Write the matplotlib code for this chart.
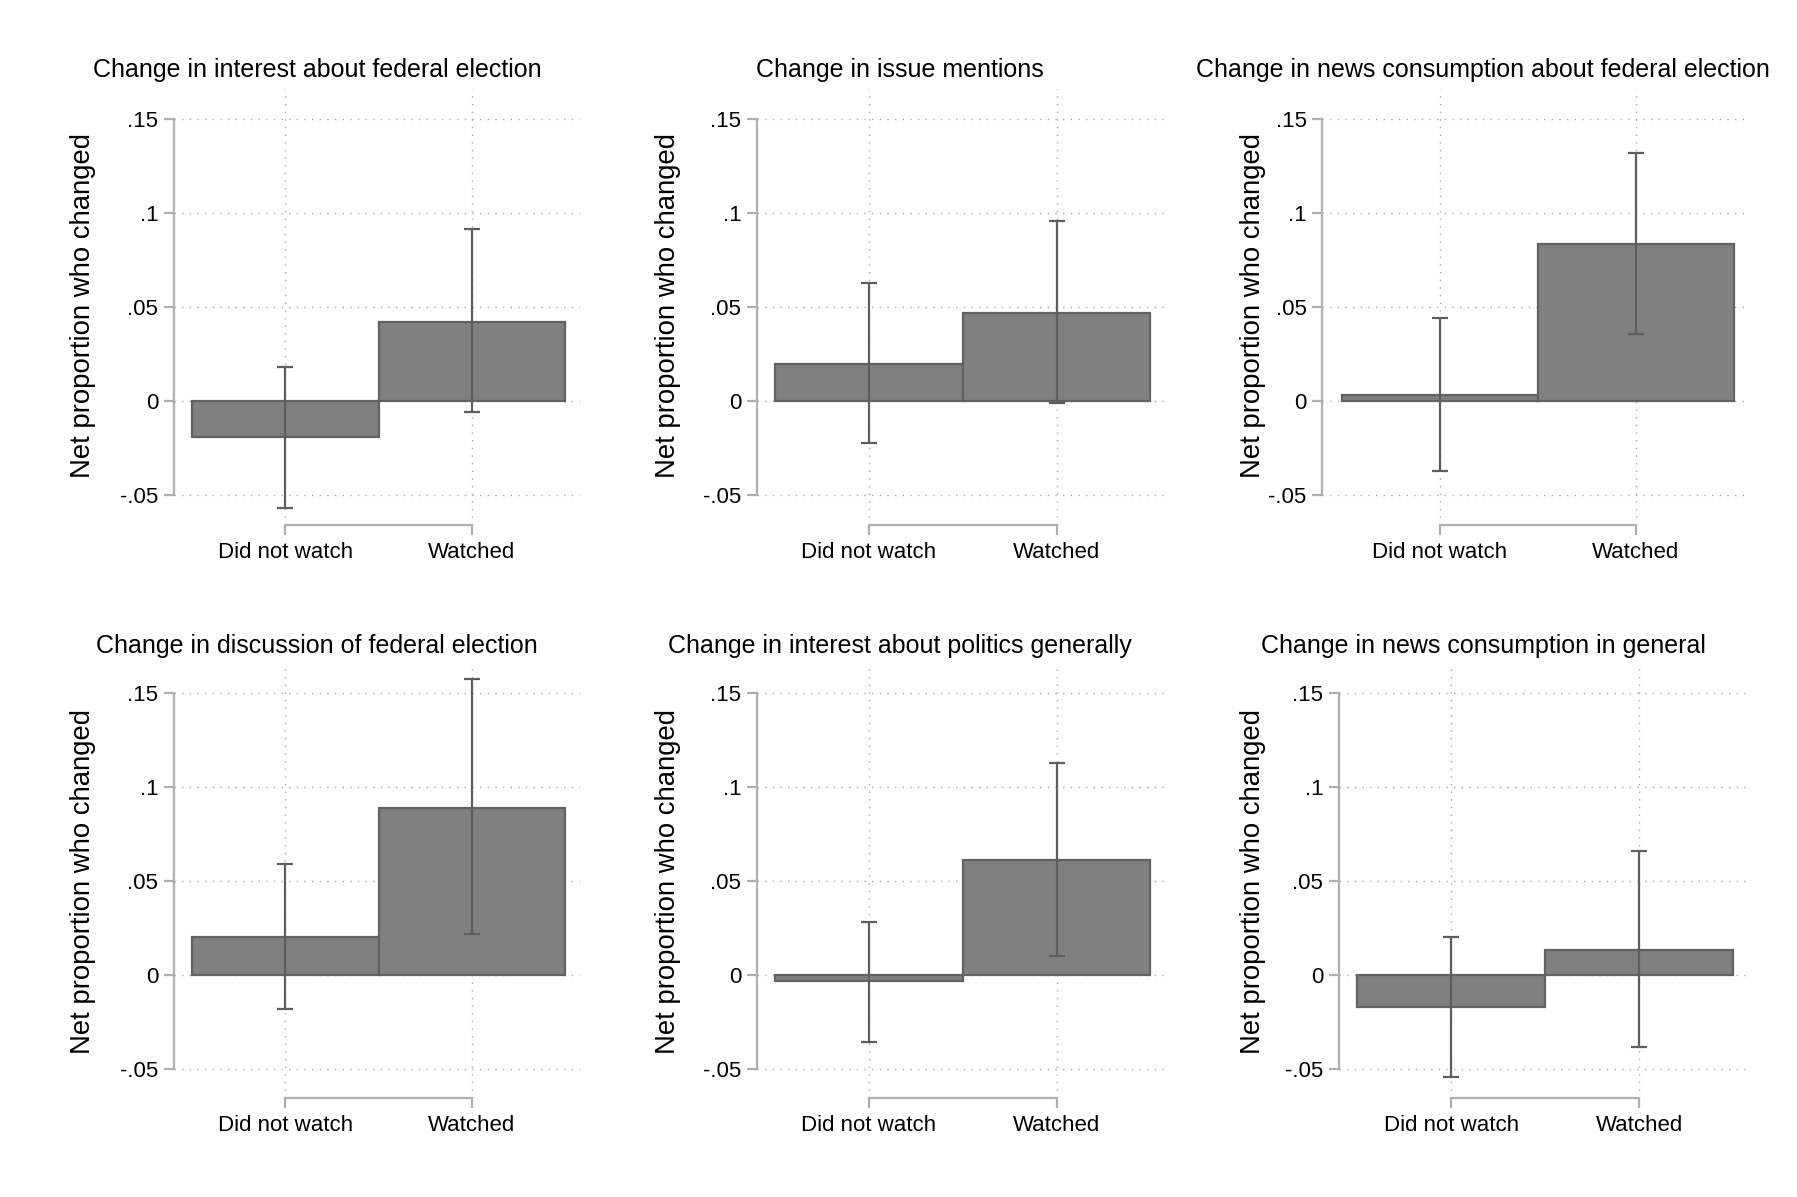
import matplotlib
matplotlib.use("Agg")
import matplotlib.pyplot as plt

plt.rcParams["font.family"] = ["Liberation Sans", "DejaVu Sans"]

# Data
titles = [
    "Change in interest about federal election",
    "Change in issue mentions",
    "Change in news consumption about federal election",
    "Change in discussion of federal election",
    "Change in interest about politics generally",
    "Change in news consumption in general",
]
groups = ["Did not watch", "Watched"]
did_not_watch = [-0.0188, 0.0200, 0.0033, 0.0198, -0.0035, -0.0171]
did_not_watch_lo = [-0.0565, -0.0222, -0.0369, -0.0184, -0.0359, -0.0547]
did_not_watch_hi = [0.0180, 0.0631, 0.0445, 0.0590, 0.0278, 0.0199]
watched = [0.0424, 0.0469, 0.0835, 0.0890, 0.0610, 0.0130]
watched_lo = [-0.0059, -0.0008, 0.0359, 0.0218, 0.0100, -0.0388]
watched_hi = [0.0916, 0.0957, 0.1318, 0.1573, 0.1130, 0.0657]
yticks = [-0.05, 0, 0.05, 0.1, 0.15]
yticklabels = ["-.05", "0", ".05", ".1", ".15"]

W, H = 1797, 1197
# axes layout in pixels: (left spine x, pixels per category step, top, bottom)
XLIM = (0.4, 2.58)
YLIM = (-0.0657, 0.166)
layout = [
    (173.5, 186.5, 89, 525),
    (756.5, 187.6, 89, 525),
    (1322, 196.0, 89, 525),
    (173.5, 186.5, 663, 1098),
    (756.5, 187.6, 663, 1098),
    (1338.5, 188.0, 663, 1098),
]
title_x = [317, 900, 1483]
ylabel_x = [83, 668, 1253]

BAR = "#808080"
EDGE = "#626262"
AXCOL = "#b0b0b0"
GRID = "#a8a8a8"

fig = plt.figure(figsize=(W / 100, H / 100), dpi=100)
fig.patch.set_facecolor("white")

for i in range(6):
    left, step, top, bottom = layout[i]
    width = (XLIM[1] - XLIM[0]) * step
    ax = fig.add_axes([left / W, 1 - bottom / H, width / W, (bottom - top) / H])
    x = [1, 2]
    vals = [did_not_watch[i], watched[i]]
    lo = [did_not_watch_lo[i], watched_lo[i]]
    hi = [did_not_watch_hi[i], watched_hi[i]]
    ax.bar(x, vals, width=1.0, color=BAR, edgecolor=EDGE, linewidth=1.6, zorder=3)
    ax.errorbar(x, vals, yerr=[[v - l for v, l in zip(vals, lo)], [h - v for v, h in zip(vals, hi)]],
                fmt="none", ecolor="#5e5e5e", elinewidth=1.6, capsize=5.5, capthick=1.6, zorder=4)

    ax.set_xlim(*XLIM)
    ax.set_ylim(*YLIM)
    ax.set_xticks(x)
    ax.set_xticklabels(groups, fontsize=16)
    ax.set_yticks(yticks)
    ax.set_yticklabels(yticklabels, fontsize=16)

    for s in ["top", "right"]:
        ax.spines[s].set_visible(False)
    ax.spines["left"].set_bounds(-0.05, 0.15)
    ax.spines["bottom"].set_bounds(1, 2)
    for s in ["left", "bottom"]:
        ax.spines[s].set_color(AXCOL)
        ax.spines[s].set_linewidth(1.6)
    ax.tick_params(axis="both", color=AXCOL, width=1.6, length=7, labelcolor="black")
    ax.tick_params(axis="x", pad=5)
    ax.tick_params(axis="y", pad=4)

    ax.grid(True, linestyle=(0, (1, 4.5)), color=GRID, linewidth=1.0, zorder=0)
    ax.set_axisbelow(True)

    row = i // 3
    col = i % 3
    ty = 70 if row == 0 else 646
    fig.text(title_x[col] / W, 1 - ty / H, titles[i], ha="center", va="center", fontsize=18)
    ly = 306 if row == 0 else 882
    fig.text(ylabel_x[col] / W, 1 - ly / H, "Net proportion who changed", rotation=90,
             ha="center", va="center", fontsize=19.8)

fig.savefig("out.png", dpi=100, facecolor="white")
